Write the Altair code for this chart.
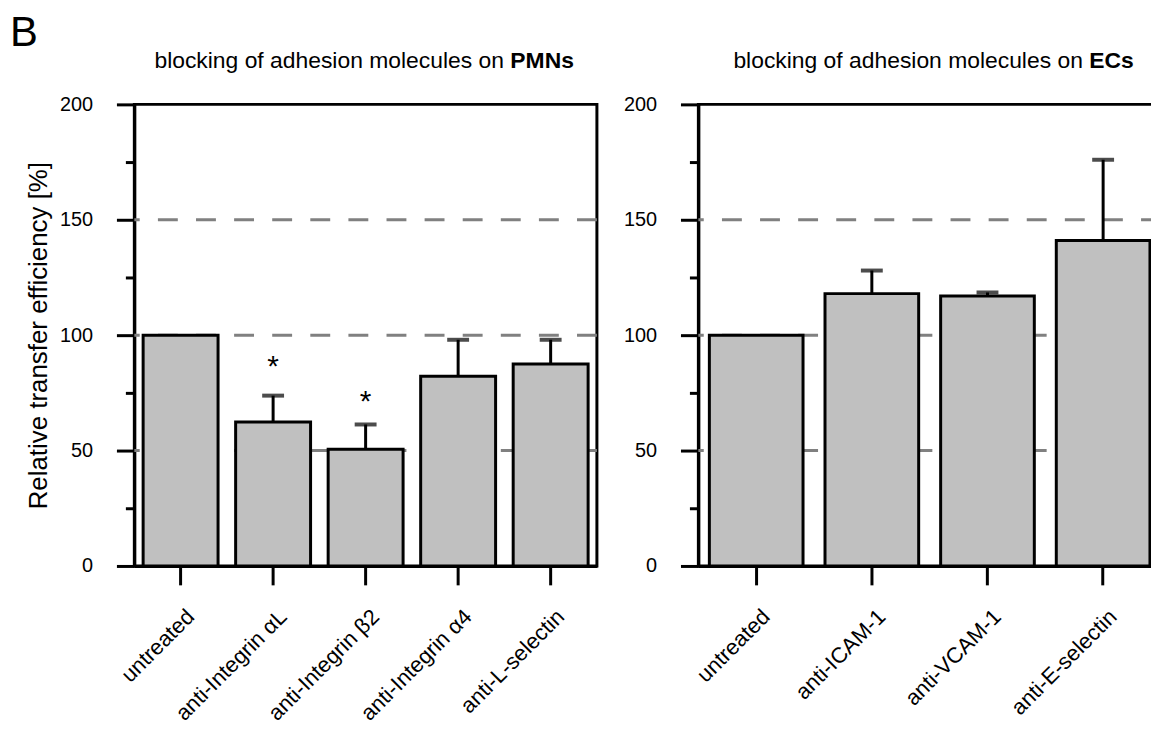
import altair as alt
import pandas as pd

FONT = "Liberation Sans"

# ---- data ----
pmn_cats = ["untreated", "anti-Integrin αL", "anti-Integrin β2", "anti-Integrin α4", "anti-L-selectin"]
pmn_vals = [100, 62.4, 50.6, 82.2, 87.5]
pmn_errs = [0, 11.4, 10.7, 15.8, 10.5]
pmn_star_cats = ["anti-Integrin αL", "anti-Integrin β2"]
pmn_star_pos = [89.5, 74.5]

ec_cats = ["untreated", "anti-ICAM-1", "anti-VCAM-1", "anti-E-selectin"]
ec_vals = [100, 118, 117, 141]
ec_errs = [0, 10, 1.5, 35]

grid_vals = [50, 100, 150]
y_ticks = [0, 25, 50, 75, 100, 125, 150, 175, 200]

W, H = 465, 464


def panel(cats, vals, errs, t_normal, t_bold, split_x, y_title=None,
          star_cats=None, star_pos=None, letter=None):
    df = pd.DataFrame({"cat": cats, "val": vals, "err": errs})
    df["upper"] = df["val"] + df["err"]
    dfe = df[df["err"] > 0]

    xsc = alt.Scale(domain=cats, paddingInner=0.19, paddingOuter=0.095)
    ysc = alt.Scale(domain=[0, 200], nice=False)

    xaxis = alt.Axis(
        title=None, labelAngle=-45, labelFontSize=22, labelFont=FONT,
        labelColor="black", labelPadding=21, labelOffset=3,
        tickSize=19, tickWidth=3, tickColor="black",
        domainColor="black", domainWidth=3, labelLimit=400,
    )
    yaxis_kw = dict(
        values=y_ticks,
        labelExpr="datum.value % 50 === 0 ? datum.label : ''",
        tickSize={"condition": {"test": "datum.value % 50 === 0", "value": 18}, "value": 9},
        tickWidth=3, tickColor="black", domainColor="black", domainWidth=3,
        labelFontSize=20, labelFont=FONT, labelColor="black", labelPadding=24,
        grid=False,
    )
    if y_title:
        yaxis = alt.Axis(title=y_title, titleFontSize=26, titleFont=FONT,
                         titleFontWeight="normal", titleColor="black",
                         titlePadding=8, **yaxis_kw)
    else:
        yaxis = alt.Axis(title=None, **yaxis_kw)

    def X():
        return alt.X("cat:N", scale=xsc, axis=xaxis)

    def Y(field):
        return alt.Y(field, scale=ysc, axis=yaxis)

    grid = alt.Chart(pd.DataFrame({"g": grid_vals})).mark_rule(
        color="#808080", strokeWidth=3, strokeDash=[20, 18.3]
    ).encode(y=Y("g:Q"))

    err_rule = alt.Chart(dfe).mark_rule(color="black", strokeWidth=3).encode(
        x=X(), y=Y("val:Q"), y2="upper:Q",
    )
    err_cap = alt.Chart(dfe).mark_tick(color="black", thickness=4, size=22).encode(
        x=X(), y=Y("upper:Q"),
    )
    bars = alt.Chart(df).mark_bar(fill="#c0c0c0", stroke="black", strokeWidth=3).encode(
        x=X(), y=Y("val:Q"),
    )
    layers = [grid, err_rule, err_cap, bars]

    if star_cats:
        sdf = pd.DataFrame({"cat": star_cats, "pos": star_pos, "s": ["*"] * len(star_cats)})
        stars = alt.Chart(sdf).mark_text(
            fontSize=30, font=FONT, color="black", baseline="alphabetic", dy=17
        ).encode(x=X(), y=Y("pos:Q"), text="s:N")
        layers.append(stars)

    tn = alt.Chart(pd.DataFrame({"t": [t_normal]})).mark_text(
        fontSize=23, font=FONT, color="black", align="right", baseline="alphabetic"
    ).encode(x=alt.value(split_x - 6.5), y=alt.value(-37), text="t:N")
    tb = alt.Chart(pd.DataFrame({"t": [t_bold]})).mark_text(
        fontSize=23, font=FONT, color="black", align="left", baseline="alphabetic",
        fontWeight="bold",
    ).encode(x=alt.value(split_x), y=alt.value(-37), text="t:N")
    layers += [tn, tb]

    if letter:
        lt = alt.Chart(pd.DataFrame({"t": [letter]})).mark_text(
            fontSize=42, font=FONT, color="black", align="left", baseline="top"
        ).encode(x=alt.value(-125), y=alt.value(-92), text="t:N")
        layers.append(lt)

    return alt.layer(*layers).properties(width=W, height=H)


left = panel(pmn_cats, pmn_vals, pmn_errs,
             "blocking of adhesion molecules on", "PMNs", 378,
             y_title="Relative transfer efficiency [%]",
             star_cats=pmn_star_cats, star_pos=pmn_star_pos, letter="B")
right = panel(ec_cats, ec_vals, ec_errs,
              "blocking of adhesion molecules on", "ECs", 393)

chart = alt.hconcat(left, right, spacing=22).properties(
    padding={"left": 0, "top": 0, "right": -13, "bottom": -3}
).configure_view(stroke="black", strokeWidth=3)

chart.save("out.html", embed_options={"renderer": "svg", "actions": False})
